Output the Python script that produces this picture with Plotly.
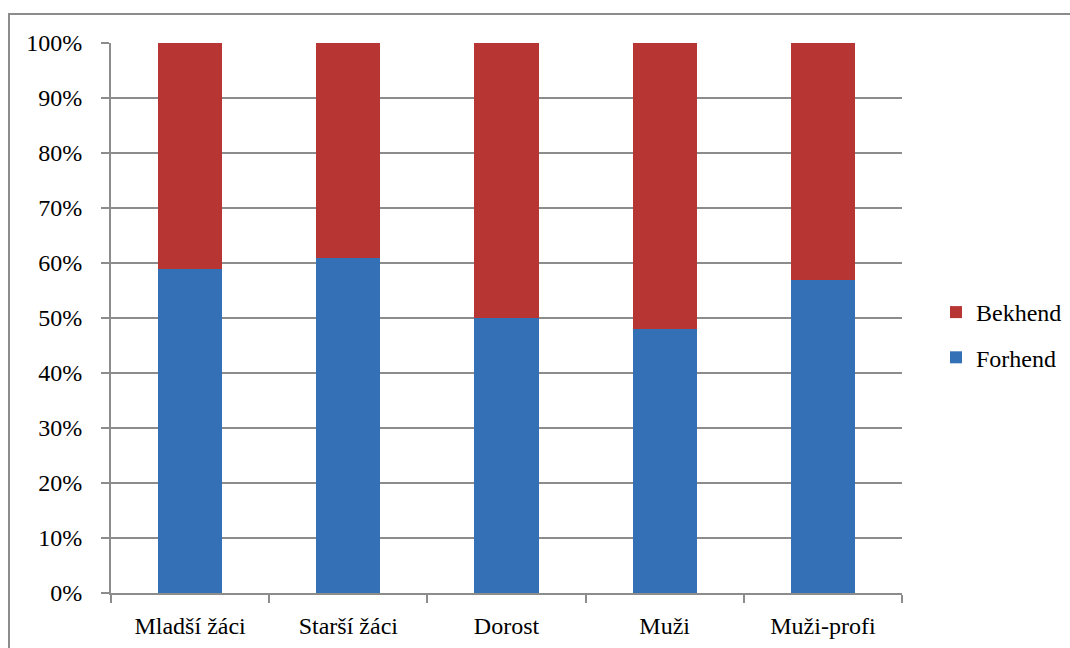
import plotly.graph_objects as go

categories = ["Mladší žáci", "Starší žáci", "Dorost", "Muži", "Muži-profi"]
forhend = [59, 61, 50, 48, 57]
bekhend = [41, 39, 50, 52, 43]
y_ticks = [0, 10, 20, 30, 40, 50, 60, 70, 80, 90, 100]
y_tick_labels = [f"{v}%" for v in y_ticks]

FONT = "Times, Liberation Serif, serif"
FS = 24

fig = go.Figure()
fig.add_trace(go.Bar(
    x=categories, y=forhend, name="Forhend",
    marker=dict(color="#3470b6", line=dict(width=0)),
    legendgroup="f", legendrank=2,
))
fig.add_trace(go.Bar(
    x=categories, y=bekhend, name="Bekhend",
    marker=dict(color="#b73533", line=dict(width=0)),
    legendgroup="b", legendrank=1,
))

W, H = 1070, 648
L, R, T, B = 111, 168, 43, 55
pw, ph = W - L - R, H - T - B

def px_x(p):
    return (p - L) / pw

def px_y(p):
    return (H - B - p) / ph

fig.update_layout(
    barmode="stack",
    bargap=0.595,
    width=W, height=H,
    margin=dict(l=L, r=R, t=T, b=B, pad=0, autoexpand=False),
    paper_bgcolor="white",
    plot_bgcolor="white",
    font=dict(family=FONT, size=FS, color="#000000"),
    showlegend=True,
    legend=dict(
        xref="container", yref="container",
        x=936 / W, y=1 - 290 / H, xanchor="left", yanchor="top",
        traceorder="grouped", tracegroupgap=11,
        font=dict(family=FONT, size=FS, color="#000000"),
        itemwidth=30, bgcolor="rgba(0,0,0,0)",
    ),
    xaxis=dict(
        type="category",
        tickson="boundaries",
        ticks="outside", ticklen=8, tickwidth=2, tickcolor="#8c8c8c",
        showline=True, linecolor="#8c8c8c", linewidth=2,
        showgrid=False,
        tickfont=dict(family=FONT, size=FS, color="#000000"),
        ticklabelstandoff=10,
    ),
    yaxis=dict(
        range=[0, 100],
        tickvals=y_ticks, ticktext=y_tick_labels,
        ticks="outside", ticklen=8, tickwidth=2, tickcolor="#8c8c8c",
        showline=True, linecolor="#8c8c8c", linewidth=2,
        showgrid=True, gridcolor="#8c8c8c", gridwidth=2,
        zeroline=False,
        tickfont=dict(family=FONT, size=FS, color="#000000"),
        ticklabelstandoff=14,
    ),
    shapes=[dict(
        type="rect", xref="paper", yref="paper",
        x0=px_x(9), x1=px_x(1100), y0=px_y(700), y1=px_y(14),
        line=dict(color="#8c8c8c", width=2), fillcolor="rgba(0,0,0,0)",
        layer="below",
    )],
)

fig.write_html("out.html")
